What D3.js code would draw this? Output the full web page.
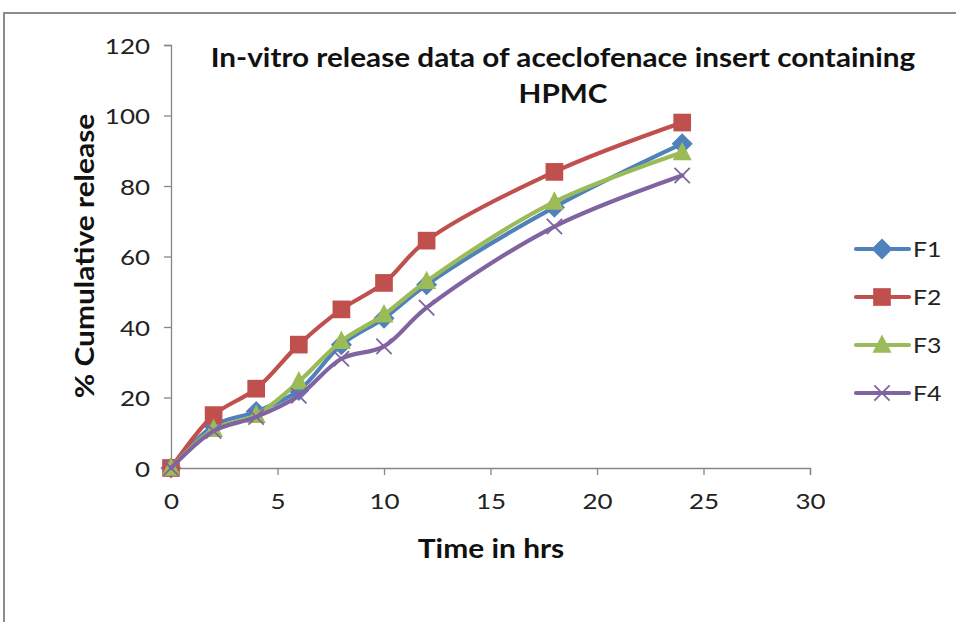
<!DOCTYPE html>
<html>
<head>
<meta charset="utf-8">
<script src="https://cdn.jsdelivr.net/npm/d3@7"></script>
<style>
  html, body { margin: 0; padding: 0; background: #fff; }
  svg { display: block; }
  text { font-family: Lato, "Open Sans", sans-serif; }
</style>
</head>
<body>
<svg id="chart" width="956" height="622"></svg>
<script>
// Sampling times (hours)
const times = [0, 2, 4, 6, 8, 10, 12, 18, 24];
// Cumulative release (%) per formulation
const f1 = [0, 12, 16, 22, 35, 42.5, 52, 74, 92];
const f2 = [0, 15, 22.5, 35, 45, 52.5, 64.5, 84, 98];
const f3 = [0, 11, 15, 24.5, 36, 43.5, 53, 75.5, 89.5];
const f4 = [0, 10.5, 14.5, 20.5, 31, 34.5, 45.5, 68.5, 83];
const seriesNames = ["F1", "F2", "F3", "F4"];
const xTicks = [0, 5, 10, 15, 20, 25, 30];
const yTicks = [0, 20, 40, 60, 80, 100, 120];
const titleLines = ["In-vitro release data of aceclofenace insert containing", "HPMC"];

const series = [
  { name: seriesNames[0], values: f1, color: "#4F81BD", marker: "diamond" },
  { name: seriesNames[1], values: f2, color: "#C0504D", marker: "square" },
  { name: seriesNames[2], values: f3, color: "#9BBB59", marker: "triangle" },
  { name: seriesNames[3], values: f4, color: "#8064A2", marker: "cross" }
];

// Text in this chart is set slightly wide
const STRETCH = 1.18;

const svg = d3.select("#chart");

// Outer chart frame
svg.append("rect")
  .attr("x", 4).attr("y", 13)
  .attr("width", 1000).attr("height", 700)
  .attr("fill", "none").attr("stroke", "#8c8c8c").attr("stroke-width", 2);

const x = d3.scaleLinear().domain([0, 30]).range([171, 810]);
const y = d3.scaleLinear().domain([0, 120]).range([468, 45]);

const axisColor = "#868686";

// X axis
const gx = svg.append("g")
  .attr("transform", `translate(0,${y(0)})`)
  .call(d3.axisBottom(x).tickValues(xTicks).tickSize(7));
// Y axis
const gy = svg.append("g")
  .attr("transform", `translate(${x(0)},0)`)
  .call(d3.axisLeft(y).tickValues(yTicks).tickSize(7));

[gx, gy].forEach(g => {
  g.select(".domain").attr("stroke", axisColor).attr("stroke-width", 1.3);
  g.selectAll(".tick line").attr("stroke", axisColor).attr("stroke-width", 1.3);
  g.selectAll(".tick text")
    .attr("fill", "#222")
    .attr("dy", null)
    .style("font-family", "Lato, sans-serif")
    .style("font-size", "22px");
});
gx.selectAll(".tick text")
  .attr("y", 0)
  .attr("transform", `translate(0,41) scale(${STRETCH},1)`);
gy.selectAll(".tick text")
  .attr("x", 0)
  .attr("transform", `translate(-21,8) scale(${STRETCH},1)`);

// Markers
function drawMarker(g, type, color, size) {
  const s = size;
  if (type === "diamond") {
    g.append("path")
      .attr("d", `M0,${-s * 0.62}L${s * 0.62},0L0,${s * 0.62}L${-s * 0.62},0Z`)
      .attr("fill", color);
  } else if (type === "square") {
    g.append("rect")
      .attr("x", -s * 0.52).attr("y", -s * 0.52)
      .attr("width", s * 1.04).attr("height", s * 1.04)
      .attr("fill", color);
  } else if (type === "triangle") {
    g.append("path")
      .attr("d", `M0,${-s * 0.62}L${s * 0.56},${s * 0.46}L${-s * 0.56},${s * 0.46}Z`)
      .attr("fill", color);
  } else if (type === "cross") {
    const h = s * 0.45;
    g.append("path")
      .attr("d", `M${-h},${-h}L${h},${h}M${-h},${h}L${h},${-h}`)
      .attr("stroke", color).attr("stroke-width", 1.8).attr("fill", "none");
  }
}

const line = d3.line()
  .x((d, i) => x(times[i]))
  .y(d => y(d))
  .curve(d3.curveCatmullRom.alpha(0.5));

series.forEach(s => {
  svg.append("path")
    .datum(s.values)
    .attr("d", line)
    .attr("fill", "none")
    .attr("stroke", s.color)
    .attr("stroke-width", 4.2)
    .attr("stroke-linejoin", "round")
    .attr("stroke-linecap", "round");
  s.values.forEach((v, i) => {
    const g = svg.append("g").attr("transform", `translate(${x(times[i])},${y(v)})`);
    drawMarker(g, s.marker, s.color, 17);
  });
});

// Legend
const legendY = [249, 297, 345, 393];
series.forEach((s, i) => {
  const g = svg.append("g").attr("transform", `translate(0,${legendY[i]})`);
  g.append("line")
    .attr("x1", 856).attr("x2", 909).attr("y1", 0).attr("y2", 0)
    .attr("stroke", s.color).attr("stroke-width", 4.2).attr("stroke-linecap", "round");
  const m = g.append("g").attr("transform", "translate(882,0)");
  drawMarker(m, s.marker, s.color, 17);
  g.append("text")
    .attr("transform", `translate(913,8) scale(${STRETCH},1)`)
    .attr("fill", "#222")
    .style("font-size", "21px")
    .text(s.name);
});

// Title
svg.append("g").selectAll("text")
  .data(titleLines)
  .join("text")
  .attr("transform", (d, i) => `translate(563,${67 + i * 36}) scale(1.1,1)`)
  .attr("text-anchor", "middle")
  .attr("fill", "#111")
  .style("font-size", "27px")
  .style("font-weight", "bold")
  .text(d => d);

// Axis titles
svg.append("text")
  .attr("transform", "translate(491,558) scale(1.15,1)")
  .attr("text-anchor", "middle")
  .attr("fill", "#111")
  .style("font-size", "26px")
  .style("font-weight", "bold")
  .text("Time in hrs");

svg.append("text")
  .attr("transform", "translate(94,256) rotate(-90) scale(1.15,1)")
  .attr("text-anchor", "middle")
  .attr("fill", "#111")
  .style("font-size", "26px")
  .style("font-weight", "bold")
  .text("% Cumulative release");
</script>
</body>
</html>
